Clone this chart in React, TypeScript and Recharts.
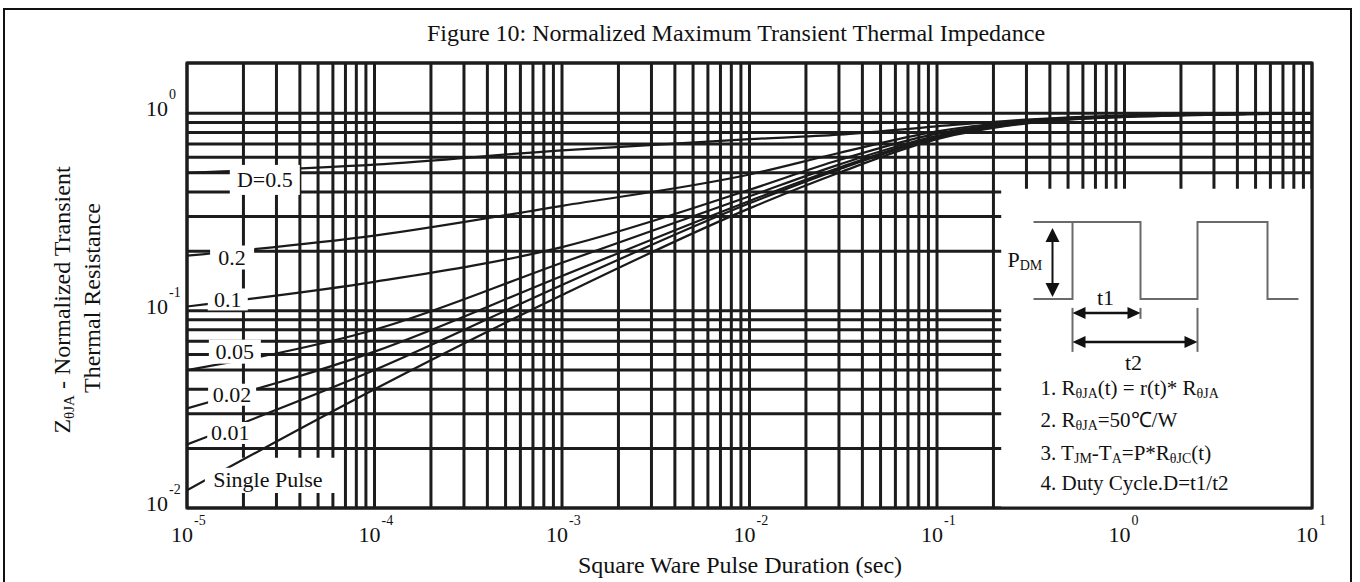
import React from 'react';
import { LineChart, Line, XAxis, YAxis, CartesianGrid, ReferenceArea, ReferenceDot } from 'recharts';

// ---- data ----
const pulseDuration = [1e-5, 1e-4, 1e-3, 1e-2, 3e-2, 1e-1, 3e-1, 1, 10];
const zD050 = [0.5, 0.55, 0.65, 0.74, 0.78, 0.86, 0.93, 0.975, 1.0];
const zD020 = [0.19, 0.24, 0.34, 0.49, 0.63, 0.81, 0.92, 0.97, 1.0];
const zD010 = [0.105, 0.14, 0.21, 0.41, 0.58, 0.79, 0.91, 0.97, 1.0];
const zD005 = [0.05, 0.08, 0.175, 0.38, 0.55, 0.77, 0.905, 0.97, 1.0];
const zD002 = [0.032, 0.062, 0.15, 0.36, 0.53, 0.76, 0.9, 0.965, 1.0];
const zD001 = [0.021, 0.05, 0.135, 0.35, 0.52, 0.75, 0.895, 0.96, 1.0];
const zSingle = [0.0123, 0.04, 0.12, 0.33, 0.5, 0.74, 0.89, 0.96, 1.0];

const seriesKeys = ['d050', 'd020', 'd010', 'd005', 'd002', 'd001', 'single'];
const seriesValues = [zD050, zD020, zD010, zD005, zD002, zD001, zSingle];

// curve labels: text and the (t, Z) point they sit on
const curveLabelText = ['D=0.5', '0.2', '0.1', '0.05', '0.02', '0.01', 'Single Pulse'];
const curveLabelT = [2.6e-5, 1.74e-5, 1.65e-5, 1.8e-5, 1.74e-5, 1.7e-5, 2.7e-5];
const curveLabelZ = [0.46, 0.186, 0.114, 0.062, 0.0375, 0.024, 0.0139];
const curveLabelBox = [[70, 30], [44, 24], [40, 22], [52, 24], [48, 22], [46, 22], [126, 24]];

// axes / grid
const xDecades = [1e-5, 1e-4, 1e-3, 1e-2, 1e-1, 1, 10];
const yDecades = [0.01, 0.1, 1];
const gridMultipliers = [1, 2, 3, 4, 5, 6, 7, 8, 9];
const xGridTicks = [
  ...xDecades.slice(0, -1).flatMap((d) => gridMultipliers.map((m) => m * d)),
  10,
];
const yGridTicks = [
  ...yDecades.slice(0, -1).flatMap((d) => gridMultipliers.map((m) => m * d)),
  1,
];

const data = pulseDuration.map((t, i) => {
  const row: Record<string, number> = { t };
  seriesKeys.forEach((k, j) => {
    row[k] = seriesValues[j][i];
  });
  return row;
});

const FONT = '"Liberation Serif", "Times New Roman", Times, serif';
const INK = '#1c1c1c';

const isDecade = (v: number) => Math.abs(Math.log10(v) - Math.round(Math.log10(v))) < 1e-6;

const XTick = (props: any) => {
  const { x, y, payload } = props;
  const v = payload.value;
  if (!isDecade(v)) return <g />;
  const e = Math.round(Math.log10(v));
  return (
    <g fontFamily={FONT} fill="#111">
      <text x={x - 5} y={y + 34} textAnchor="middle" fontSize={22}>10</text>
      <text x={x + 7} y={y + 17} textAnchor="start" fontSize={14}>{String(e)}</text>
    </g>
  );
};

const YTick = (props: any) => {
  const { x, y, payload } = props;
  const v = payload.value;
  if (!isDecade(v)) return <g />;
  const e = Math.round(Math.log10(v));
  return (
    <g fontFamily={FONT} fill="#111">
      <text x={x - 19} y={y + 3} textAnchor="end" fontSize={22}>10</text>
      <text x={x - 18} y={y - 14} textAnchor="start" fontSize={14}>{String(e)}</text>
    </g>
  );
};

const LabelShape = (props: any) => {
  const { cx, cy, text, w, h } = props;
  return (
    <g>
      <rect x={cx - w / 2} y={cy - h / 2} width={w} height={h} fill="#fff" />
      <text x={cx} y={cy + 7.5} textAnchor="middle" fontSize={22} fontFamily={FONT} fill="#111">
        {text}
      </text>
    </g>
  );
};

const Sub = ({ children }: { children: any }) => (
  <tspan fontSize={14} dy={3}>{children}</tspan>
);

const InsetShape = (props: any) => {
  const { cx, cy } = props;
  const gray = '#6a6a6a';
  return (
    <g transform={`translate(${cx},${cy})`} fontFamily={FONT} fill="#111">
      <polyline
        points="-91,107 -52,107 -52,30 16,30 16,107 73,107 73,30 143,30 143,107 174,107"
        fill="none"
        stroke={gray}
        strokeWidth={2}
      />
      <line x1={-91} y1={30} x2={-52} y2={30} stroke={gray} strokeWidth={2} />
      {/* P_DM arrow */}
      <line x1={-72} y1={44} x2={-72} y2={97} stroke="#111" strokeWidth={2} />
      <polygon points="-72,36 -79,50 -65,50" fill="#111" />
      <polygon points="-72,105 -79,91 -65,91" fill="#111" />
      <text x={-117} y={75} fontSize={22}>
        P<tspan fontSize={14} dy={3}>DM</tspan>
      </text>
      {/* extension lines */}
      <line x1={-52} y1={116} x2={-52} y2={160} stroke={gray} strokeWidth={2} />
      <line x1={16} y1={116} x2={16} y2={127} stroke={gray} strokeWidth={2} />
      <line x1={73} y1={116} x2={73} y2={160} stroke={gray} strokeWidth={2} />
      {/* t1 arrow */}
      <line x1={-42} y1={121} x2={6} y2={121} stroke="#111" strokeWidth={2.5} />
      <polygon points="-52,121 -39,115 -39,127" fill="#111" />
      <polygon points="16,121 3,115 3,127" fill="#111" />
      <text x={-19} y={113} fontSize={22} textAnchor="middle">t1</text>
      {/* t2 arrow */}
      <line x1={-42} y1={150} x2={63} y2={150} stroke="#111" strokeWidth={2.5} />
      <polygon points="-52,150 -39,144 -39,156" fill="#111" />
      <polygon points="73,150 60,144 60,156" fill="#111" />
      <text x={9} y={178} fontSize={22} textAnchor="middle">t2</text>
      {/* notes */}
      <text x={-84} y={203} fontSize={21}>
        1. R<Sub>θJA</Sub><tspan dy={-3}>(t) = r(t)* R</tspan><Sub>θJA</Sub>
      </text>
      <text x={-84} y={235} fontSize={21}>
        2. R<Sub>θJA</Sub><tspan dy={-3}>=50℃/W</tspan>
      </text>
      <text x={-84} y={268} fontSize={21}>
        3. T<Sub>JM</Sub><tspan dy={-3}>-T</tspan><Sub>A</Sub><tspan dy={-3}>=P*R</tspan><Sub>θJC</Sub><tspan dy={-3}>(t)</tspan>
      </text>
      <text x={-84} y={298} fontSize={21}>4. Duty Cycle.D=t1/t2</text>
    </g>
  );
};

export default function App() {
  return (
    <div style={{ position: 'absolute', left: 0, top: 0, width: 1360, height: 582, overflow: 'hidden', background: '#fff' }}>
      <div
        style={{
          position: 'absolute',
          left: 3,
          top: 8,
          width: 1349,
          height: 620,
          border: '2px solid #111',
          boxSizing: 'border-box',
        }}
      />
      <div style={{ position: 'absolute', left: 0, top: 0 }}>
        <LineChart width={1360} height={582} data={data} margin={{ top: 63, right: 48, bottom: 14, left: 127 }}>
          <XAxis
            dataKey="t"
            type="number"
            scale="log"
            domain={[1e-5, 10]}
            allowDataOverflow
            ticks={xGridTicks}
            interval={0}
            height={60}
            tickSize={0}
            tickMargin={0}
            axisLine={false}
            tickLine={false}
            tick={(p: any) => <XTick {...p} />}
          />
          <YAxis
            type="number"
            scale="log"
            domain={[0.01, 1.8]}
            allowDataOverflow
            ticks={yGridTicks}
            interval={0}
            width={60}
            tickSize={0}
            tickMargin={0}
            axisLine={false}
            tickLine={false}
            tick={(p: any) => <YTick {...p} />}
          />
          <CartesianGrid stroke={INK} strokeWidth={3} />
          {/* blank areas of the original chart */}
          <ReferenceArea x1={0.22} x2={10} y1={0.01} y2={0.415} fill="#fff" fillOpacity={1} stroke="none" />
          <ReferenceArea x1={1.1e-5} x2={6.2e-5} y1={0.0119} y2={0.018} fill="#fff" fillOpacity={1} stroke="none" />
          {seriesKeys.map((k) => (
            <Line
              key={k}
              dataKey={k}
              type="monotone"
              stroke="#1a1a1a"
              strokeWidth={2.2}
              dot={false}
              isAnimationActive={false}
            />
          ))}
          {curveLabelText.map((txt, i) => (
            <ReferenceDot
              key={txt}
              x={curveLabelT[i]}
              y={curveLabelZ[i]}
              r={1}
              shape={(p: any) => (
                <LabelShape {...p} text={txt} w={curveLabelBox[i][0]} h={curveLabelBox[i][1]} />
              )}
            />
          ))}
          <ReferenceDot x={1} y={0.4} r={1} shape={(p: any) => <InsetShape {...p} />} />
          <ReferenceArea x1={1e-5} x2={10} y1={0.01} y2={1.8} fill="none" stroke={INK} strokeWidth={3} />
        </LineChart>
      </div>
      <svg
        width={1360}
        height={582}
        style={{ position: 'absolute', left: 0, top: 0, pointerEvents: 'none' }}
        fontFamily={FONT}
        fill="#111"
      >
        <text x={736} y={41} textAnchor="middle" fontSize={24}>
          Figure 10: Normalized Maximum Transient Thermal Impedance
        </text>
        <text x={740} y={573} textAnchor="middle" fontSize={24}>
          Square Ware Pulse Duration (sec)
        </text>
        <text x={70} y={300} textAnchor="middle" fontSize={24} transform="rotate(-90 70 300)">
          Z<tspan fontSize={15} dy={4}>θJA</tspan>
          <tspan dy={-4}> - Normalized Transient</tspan>
        </text>
        <text x={100} y={298} textAnchor="middle" fontSize={24} transform="rotate(-90 100 298)">
          Thermal Resistance
        </text>
      </svg>
    </div>
  );
}
